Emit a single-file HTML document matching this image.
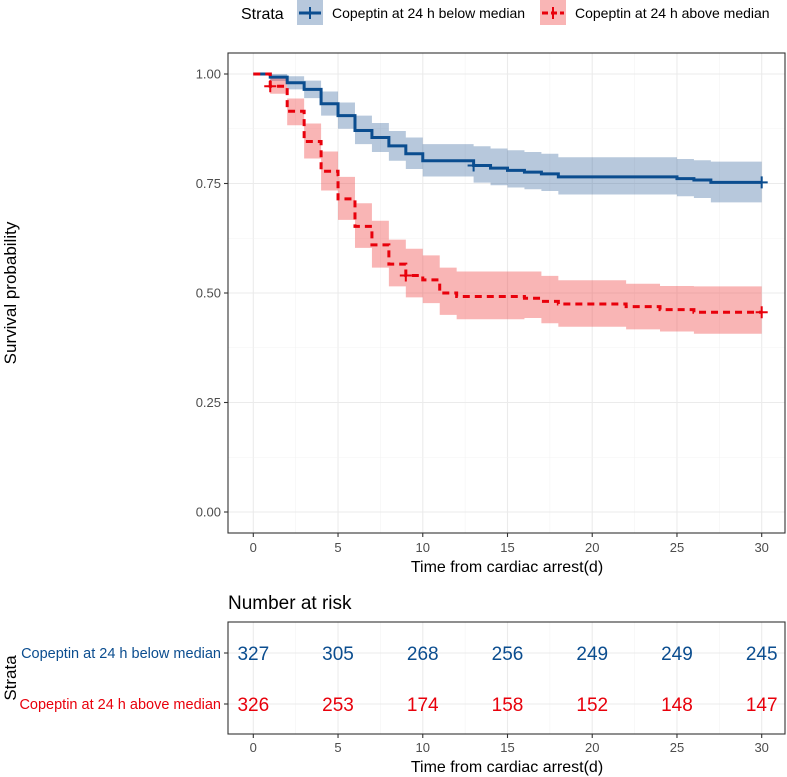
<!DOCTYPE html>
<html><head><meta charset="utf-8"><style>
body{margin:0;background:#fff;}
svg{display:block;font-family:"Liberation Sans",Arial,sans-serif;}
</style></head><body>
<svg id="chart" width="787" height="777" viewBox="0 0 787 777" xmlns="http://www.w3.org/2000/svg"></svg>
<script>
const xTicks=[0,5,10,15,20,25,30];
const yTicks=[0,0.25,0.5,0.75,1];
const yTickLabels=["0.00","0.25","0.50","0.75","1.00"];
const blueTimes=[0,1,2,3,4,5,6,7,8,9,10,13,14,15,16,17,18,25,26,27];
const blueSurv=[1,0.993,0.98,0.965,0.932,0.905,0.871,0.855,0.836,0.818,0.802,0.791,0.785,0.78,0.776,0.772,0.765,0.761,0.758,0.7525];
const blueLower=[1,0.984,0.965,0.945,0.905,0.875,0.840,0.822,0.802,0.783,0.766,0.752,0.746,0.741,0.737,0.733,0.725,0.721,0.717,0.707];
const blueUpper=[1,1,0.995,0.985,0.96,0.935,0.905,0.888,0.87,0.855,0.84,0.835,0.83,0.826,0.822,0.818,0.81,0.806,0.803,0.80];
const blueCensorT=[13,30];
const redTimes=[0,1,2,3,4,5,6,7,8,9,10,11,12,16,17,18,22,24,26];
const redSurv=[1,0.972,0.915,0.846,0.778,0.715,0.652,0.61,0.566,0.54,0.53,0.50,0.492,0.488,0.481,0.475,0.469,0.462,0.456];
const redUpper=[1,0.99,0.944,0.887,0.823,0.765,0.705,0.665,0.622,0.601,0.586,0.558,0.549,0.549,0.539,0.529,0.521,0.516,0.515];
const redLower=[1,0.955,0.883,0.807,0.734,0.667,0.603,0.558,0.515,0.49,0.477,0.45,0.44,0.443,0.431,0.423,0.417,0.412,0.407];
const redCensorT=[1,9,30];
const riskBlue=[327,305,268,256,249,249,245];
const riskRed=[326,253,174,158,152,148,147];
const groupNames=["Copeptin at 24 h below median","Copeptin at 24 h above median"];
const tMax=30;

const BLUE="#0b4d8f",RED="#e8000b",BLUEF="rgba(36,89,150,0.33)",REDF="rgba(240,70,70,0.4)";
const svg=document.getElementById('chart');
const NS="http://www.w3.org/2000/svg";
function mk(tag,attrs,parent,text){const e=document.createElementNS(NS,tag);for(const k in attrs)e.setAttribute(k,attrs[k]);if(text!==undefined)e.textContent=text;(parent||svg).appendChild(e);return e;}
const PL=228,PR=785,PT=53,PB=533;
const xs=t=>253.3+t*(761.7-253.3)/30;
const ys=v=>512-v*438;
const TT=622,TB=734;
const rowY=[653,704];

const g=mk('g',{});
for(let i=0;i<xTicks.length;i++){
  mk('line',{x1:xs(xTicks[i]),x2:xs(xTicks[i]),y1:PT,y2:PB,stroke:'#ebebeb','stroke-width':1.1},g);
  if(i<xTicks.length-1){const m=(xTicks[i]+xTicks[i+1])/2;mk('line',{x1:xs(m),x2:xs(m),y1:PT,y2:PB,stroke:'#f3f3f3','stroke-width':0.6},g);}
}
for(let i=0;i<yTicks.length;i++){
  mk('line',{x1:PL,x2:PR,y1:ys(yTicks[i]),y2:ys(yTicks[i]),stroke:'#ebebeb','stroke-width':1.1},g);
  if(i<yTicks.length-1){const m=(yTicks[i]+yTicks[i+1])/2;mk('line',{x1:PL,x2:PR,y1:ys(m),y2:ys(m),stroke:'#f3f3f3','stroke-width':0.6},g);}
}
function band(times,lo,up,fill,name){
  let top=[],bot=[];
  for(let i=0;i<times.length;i++){const t0=times[i],t1=i<times.length-1?times[i+1]:tMax;
    top.push([xs(t0),ys(up[i])],[xs(t1),ys(up[i])]);bot.push([xs(t0),ys(lo[i])],[xs(t1),ys(lo[i])]);}
  const pts=top.concat(bot.reverse()).map(p=>p.join(',')).join(' ');
  const e=mk('polygon',{points:pts,fill:fill});
  
}
function stepPath(times,s){
  let d='M'+xs(times[0])+','+ys(s[0]);
  for(let i=1;i<times.length;i++){d+=' H'+xs(times[i])+' V'+ys(s[i]);}
  d+=' H'+xs(tMax);return d;
}
function survAt(times,s,t){let v=s[0];for(let i=0;i<times.length;i++)if(times[i]<=t)v=s[i];return v;}
band(blueTimes,blueLower,blueUpper,BLUEF,'ci-band-below-median');
band(redTimes,redLower,redUpper,REDF,'ci-band-above-median');
let e=mk('path',{d:stepPath(blueTimes,blueSurv),fill:'none',stroke:BLUE,'stroke-width':3});

e=mk('path',{d:stepPath(redTimes,redSurv),fill:'none',stroke:RED,'stroke-width':3,'stroke-dasharray':'7,5'});

function censor(times,s,cts,col,name){
  cts.forEach(t=>{const x=xs(t),y=ys(survAt(times,s,t));
    const c=mk('path',{d:`M${x-6},${y} H${x+6} M${x},${y-6} V${y+6}`,stroke:col,'stroke-width':2});
    });
}
censor(blueTimes,blueSurv,blueCensorT,BLUE,'censor-mark-below');
censor(redTimes,redSurv,redCensorT,RED,'censor-mark-above');
e=mk('rect',{x:PL,y:PT,width:PR-PL,height:PB-PT,fill:'none',stroke:'#333','stroke-width':1.1});

for(let i=0;i<yTicks.length;i++){
  mk('line',{x1:PL-4,x2:PL,y1:ys(yTicks[i]),y2:ys(yTicks[i]),stroke:'#333','stroke-width':1.1});
  const t=mk('text',{x:PL-7,y:ys(yTicks[i])+4.5,'text-anchor':'end','font-size':13,fill:'#4d4d4d'},svg,yTickLabels[i]);
  
}
function xAxis(by,ly,ty){
  for(let i=0;i<xTicks.length;i++){
    mk('line',{x1:xs(xTicks[i]),x2:xs(xTicks[i]),y1:by,y2:by+4,stroke:'#333','stroke-width':1.1});
    const t=mk('text',{x:xs(xTicks[i]),y:ly,'text-anchor':'middle','font-size':13,fill:'#4d4d4d'},svg,String(xTicks[i]));
    
  }
  const t=mk('text',{x:507,y:ty,'text-anchor':'middle','font-size':16,fill:'#000'},svg,'Time from cardiac arrest(d)');
  
}
xAxis(PB,552,572);
e=mk('text',{x:0,y:0,transform:'translate(16,293) rotate(-90)','text-anchor':'middle','font-size':17,fill:'#000'},svg,'Survival probability');

e=mk('text',{x:241,y:19,'font-size':16,fill:'#000'},svg,'Strata');

[[297,332,BLUEF,BLUE,false],[540,575,REDF,RED,true]].forEach((L,i)=>{
  const lg=mk('g',{});
  mk('rect',{x:L[0],y:0,width:26,height:25,fill:L[2]},lg);
  mk('line',{x1:L[0]+2,x2:L[0]+24,y1:13,y2:13,stroke:L[3],'stroke-width':3,'stroke-dasharray':L[4]?'6,3':'none'},lg);
  mk('line',{x1:L[0]+13,x2:L[0]+13,y1:7,y2:19,stroke:L[3],'stroke-width':2},lg);
  mk('text',{x:L[1],y:18,'font-size':14,fill:'#000'},lg,groupNames[i]);
});
e=mk('text',{x:228,y:609,'font-size':19,fill:'#000'},svg,'Number at risk');

for(let i=0;i<xTicks.length;i++){
  mk('line',{x1:xs(xTicks[i]),x2:xs(xTicks[i]),y1:TT,y2:TB,stroke:'#ebebeb','stroke-width':1.1});
  if(i<xTicks.length-1){const m=(xTicks[i]+xTicks[i+1])/2;mk('line',{x1:xs(m),x2:xs(m),y1:TT,y2:TB,stroke:'#f3f3f3','stroke-width':0.6});}
}
rowY.forEach(y=>mk('line',{x1:PL,x2:PR,y1:y,y2:y,stroke:'#ebebeb','stroke-width':1.1}));
e=mk('rect',{x:PL,y:TT,width:PR-PL,height:TB-TT,fill:'none',stroke:'#333','stroke-width':1.1});

[riskBlue,riskRed].forEach((arr,r)=>{
  const col=r===0?BLUE:RED;
  arr.forEach((v,i)=>{const t=mk('text',{x:xs(xTicks[i]),y:rowY[r]+7,'text-anchor':'middle','font-size':19,fill:col},svg,String(v));
    });
  mk('line',{x1:PL-4,x2:PL,y1:rowY[r],y2:rowY[r],stroke:'#333','stroke-width':1.1});
  const t=mk('text',{x:PL-7,y:rowY[r]+5,'text-anchor':'end','font-size':14.5,fill:col},svg,groupNames[r]);
  
});
xAxis(TB,752,772);
e=mk('text',{x:0,y:0,transform:'translate(16,678) rotate(-90)','text-anchor':'middle','font-size':17,fill:'#000'},svg,'Strata');

</script>
</body></html>
